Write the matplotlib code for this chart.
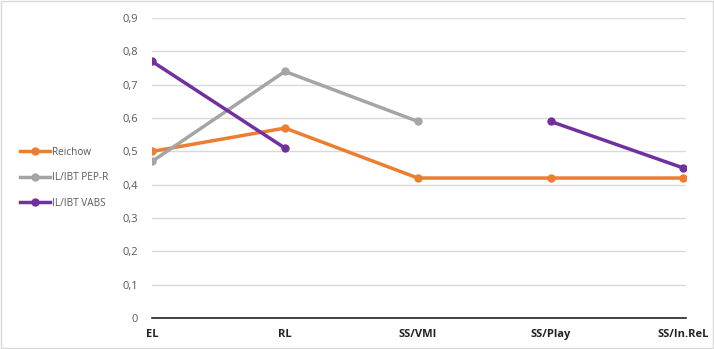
import matplotlib.pyplot as plt
import matplotlib.ticker as mticker
import numpy as np

categories = ["EL", "RL", "SS/VMI", "SS/Play", "SS/In.ReL"]
reichow = [0.50, 0.57, 0.42, 0.42, 0.42]
pep_r = [0.47, 0.74, 0.59, np.nan, np.nan]
vabs = [0.77, 0.51, np.nan, 0.59, 0.45]

plt.rcParams["font.family"] = ["Open Sans", "DejaVu Sans"]

fig = plt.figure(figsize=(7.14, 3.49), dpi=100)
ax = fig.add_axes([0.213, 0.089, 0.748, 0.859])

x = np.arange(len(categories))
series = [("Reichow", reichow, "#ED7D31"),
          ("IL/IBT PEP-R", pep_r, "#A5A5A5"),
          ("IL/IBT VABS", vabs, "#7030A0")]
for name, vals, col in series:
    ax.plot(x, vals, color=col, lw=2.5, marker="o", ms=5, label=name, zorder=3)

ax.set_xlim(0, 4.02)
ax.set_ylim(0, 0.9)
ax.set_yticks(np.arange(0, 0.91, 0.1))
ax.yaxis.set_major_formatter(mticker.FuncFormatter(
    lambda v, p: "0" if abs(v) < 1e-9 else f"{v:.1f}".replace(".", ",")))
ax.set_xticks(x)
ax.set_xticklabels(categories, fontweight="bold", fontsize=8, color="#222222")
ax.tick_params(axis="y", labelsize=8, colors="#595959", length=0, pad=10)
ax.tick_params(axis="x", length=0, pad=8)
ax.grid(axis="y", color="#D9D9D9", lw=1)
for s in ["top", "right", "left"]:
    ax.spines[s].set_visible(False)
ax.spines["bottom"].set_color("#222222")
ax.spines["bottom"].set_linewidth(1.2)

# legend sits to the left of the y tick labels
fig.legend(loc="center left", bbox_to_anchor=(0.028, 0.49), frameon=False,
           fontsize=7.2, labelcolor="#595959", handlelength=3.0, labelspacing=1.45,
           handletextpad=0.2, borderaxespad=0, borderpad=0)

fig.patches.append(plt.Rectangle((0.002, 0.003), 0.996, 0.994, transform=fig.transFigure,
                                 fill=False, edgecolor="#D9D9D9", lw=1))

fig.savefig("out.png", dpi=100)
